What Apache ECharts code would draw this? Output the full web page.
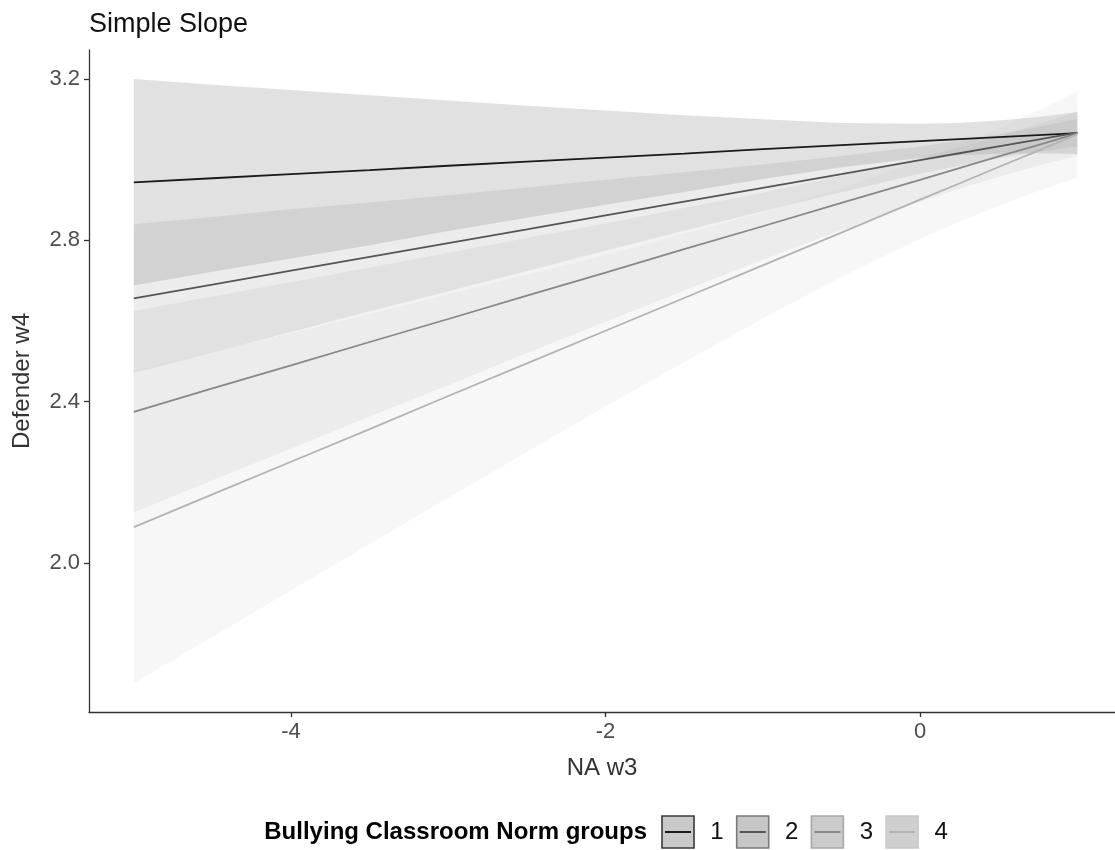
<!DOCTYPE html>
<html><head><meta charset="utf-8">
<script src="https://cdn.jsdelivr.net/npm/echarts@6/dist/echarts.min.js"></script>
<style>html,body{margin:0;padding:0;background:#fff}#chart{width:1115px;height:850px}</style>
</head><body><div id="chart"></div>
<script>
// ---- data ----
const xs = [-5, -4.5, -4, -3.5, -3, -2.5, -2, -1.5, -1, -0.5, 0, 0.25, 0.5, 0.75, 1];
const groups = ['1', '2', '3', '4'];

const fit1 = [2.944, 2.954, 2.964, 2.974, 2.985, 2.995, 3.005, 3.015, 3.026, 3.036, 3.046, 3.051, 3.056, 3.061, 3.066];
const lo1  = [2.688, 2.722, 2.755, 2.788, 2.823, 2.856, 2.888, 2.920, 2.952, 2.981, 3.004, 3.011, 3.015, 3.016, 3.014];
const hi1  = [3.200, 3.186, 3.173, 3.160, 3.147, 3.134, 3.122, 3.110, 3.100, 3.091, 3.089, 3.091, 3.097, 3.106, 3.118];

const fit2 = [2.656, 2.690, 2.725, 2.759, 2.793, 2.827, 2.862, 2.896, 2.930, 2.964, 2.999, 3.016, 3.033, 3.050, 3.067];
const lo2  = [2.472, 2.522, 2.573, 2.624, 2.674, 2.724, 2.774, 2.824, 2.872, 2.919, 2.965, 2.985, 3.003, 3.019, 3.033];
const hi2  = [2.840, 2.858, 2.877, 2.894, 2.912, 2.931, 2.950, 2.969, 2.988, 3.009, 3.033, 3.047, 3.063, 3.081, 3.101];

const fit3 = [2.375, 2.433, 2.490, 2.548, 2.605, 2.663, 2.720, 2.778, 2.835, 2.893, 2.950, 2.979, 3.008, 3.036, 3.065];
const lo3  = [2.125, 2.205, 2.284, 2.363, 2.441, 2.521, 2.598, 2.676, 2.752, 2.826, 2.895, 2.928, 2.958, 2.985, 3.010];
const hi3  = [2.625, 2.661, 2.696, 2.733, 2.769, 2.806, 2.842, 2.880, 2.918, 2.960, 3.005, 3.030, 3.058, 3.087, 3.120];

const fit4 = [2.089, 2.170, 2.251, 2.332, 2.414, 2.495, 2.576, 2.657, 2.738, 2.819, 2.901, 2.941, 2.982, 3.022, 3.063];
const lo4  = [1.702, 1.817, 1.932, 2.047, 2.162, 2.275, 2.388, 2.498, 2.606, 2.709, 2.804, 2.846, 2.886, 2.922, 2.956];
const hi4  = [2.476, 2.523, 2.570, 2.617, 2.666, 2.715, 2.764, 2.816, 2.870, 2.930, 2.998, 3.036, 3.078, 3.122, 3.170];

const xTicks = [-4, -2, 0];
const yTicks = [2.0, 2.4, 2.8, 3.2];

const titleText = 'Simple Slope';
const xName = 'NA w3';
const yName = 'Defender w4';
const legendTitle = 'Bullying Classroom Norm groups';

// ---- styles ----
const FONT = "'Liberation Sans', Arial, Helvetica, sans-serif";
const lineColors = ['#1a1a1a', '#555555', '#888888', '#b3b3b3'];
const fillColors = ['#333333', '#818181', '#ababab', '#cccccc'];
const keyFills = ['#c9c9c9', '#c6c6c6', '#cbcbcb', '#cfcfcf'];
const keyBorders = ['#3a3a3a', '#7a7a7a', '#a8a8a8', '#c9c9c9'];

const fits = [fit1, fit2, fit3, fit4];
const los = [lo1, lo2, lo3, lo4];
const his = [hi1, hi2, hi3, hi4];

const series = [];
groups.forEach((g, i) => {
  const lo = los[i], hi = his[i];
  series.push({
    type: 'custom', name: 'band ' + g, coordinateSystem: 'cartesian2d',
    data: xs.map((x, k) => [x, lo[k], hi[k]]),
    encode: { x: 0, y: [1, 2] },
    silent: true, z: 1,
    renderItem: function (params, api) {
      if (params.dataIndex !== 0) return null;
      const pts = [];
      for (let k = 0; k < xs.length; k++) pts.push(api.coord([xs[k], hi[k]]));
      for (let k = xs.length - 1; k >= 0; k--) pts.push(api.coord([xs[k], lo[k]]));
      return { type: 'polygon', shape: { points: pts }, style: { fill: fillColors[i], opacity: 0.15 } };
    }
  });
});
groups.forEach((g, i) => {
  series.push({
    type: 'line', name: g, data: xs.map((x, k) => [x, fits[i][k]]),
    showSymbol: false, symbol: 'none', silent: true, z: 3,
    lineStyle: { color: lineColors[i], width: 1.8 }
  });
});

// legend drawn as graphic (key box with line inside)
const legendY = 832, keySize = 32, keyStart = 662, keyStep = 74.7;
const legendEls = [{
  type: 'text', x: 647, y: legendY,
  style: { text: legendTitle, font: 'bold 24px ' + FONT, fill: '#000', align: 'right', verticalAlign: 'middle' }
}];
groups.forEach((g, i) => {
  const x0 = keyStart + i * keyStep;
  legendEls.push({ type: 'rect', shape: { x: x0, y: legendY - keySize / 2, width: keySize, height: keySize },
    style: { fill: keyFills[i], stroke: keyBorders[i], lineWidth: 1.6 } });
  legendEls.push({ type: 'line', shape: { x1: x0 + 3, y1: legendY, x2: x0 + keySize - 3, y2: legendY },
    style: { stroke: lineColors[i], lineWidth: 2 } });
  legendEls.push({ type: 'text', x: x0 + 55, y: legendY,
    style: { text: g, font: '24px ' + FONT, fill: '#111', align: 'center', verticalAlign: 'middle' } });
});

const chart = echarts.init(document.getElementById('chart'), null, { renderer: 'canvas' });
chart.setOption({
  animation: false,
  backgroundColor: '#fff',
  textStyle: { fontFamily: FONT },
  title: { text: titleText, left: 84, top: 6, textStyle: { fontSize: 27, fontWeight: 'normal', color: '#111', fontFamily: FONT } },
  grid: { left: 89, right: 0, top: 50, bottom: 138, containLabel: false, outerBoundsMode: 'none' },
  xAxis: {
    type: 'value', min: -5.285, max: 1.24,
    name: xName, nameLocation: 'middle', nameGap: 44,
    nameTextStyle: { fontSize: 24, color: '#333', fontFamily: FONT },
    axisLine: { show: true, onZero: false, lineStyle: { color: '#333', width: 1.3 } },
    axisTick: { show: true, length: 5, customValues: xTicks, lineStyle: { color: '#333', width: 1.3 } },
    axisLabel: { customValues: xTicks, color: '#4d4d4d', fontSize: 22, margin: 9, fontFamily: FONT,
      formatter: v => String(v) },
    splitLine: { show: false }
  },
  yAxis: {
    type: 'value', min: 1.6306, max: 3.272,
    name: yName, nameLocation: 'middle', nameGap: 55, nameRotate: 90,
    nameTextStyle: { fontSize: 24, color: '#333', fontFamily: FONT },
    axisLine: { show: true, onZero: false, lineStyle: { color: '#333', width: 1.3 } },
    axisTick: { show: true, length: 5, customValues: yTicks, lineStyle: { color: '#333', width: 1.3 } },
    axisLabel: { customValues: yTicks, color: '#4d4d4d', fontSize: 22, margin: 9, fontFamily: FONT,
      formatter: v => Number(v).toFixed(1) },
    splitLine: { show: false }
  },
  graphic: legendEls,
  series: series
});
</script>
</body></html>
